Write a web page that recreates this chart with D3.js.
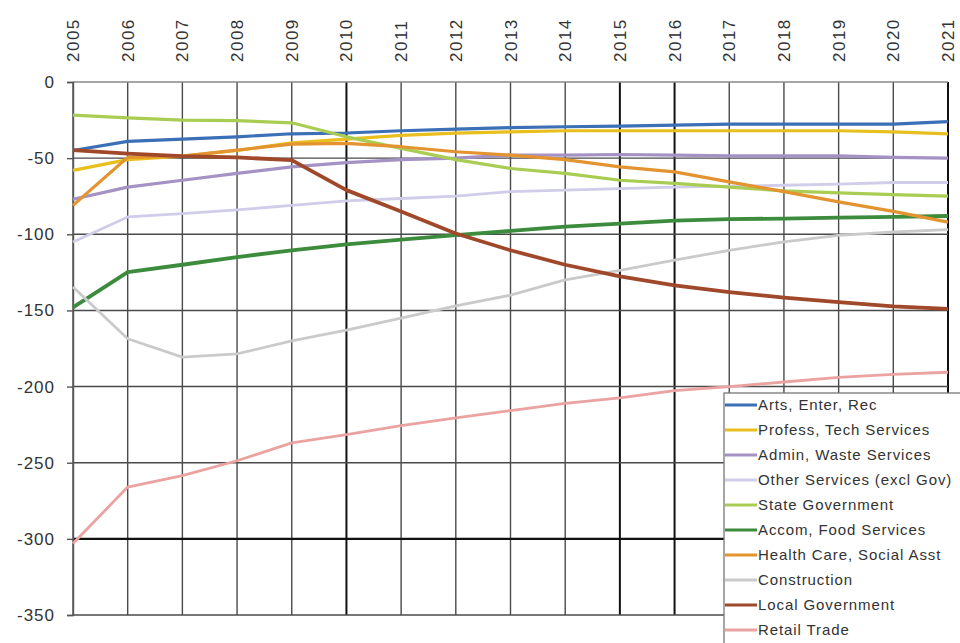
<!DOCTYPE html>
<html>
<head>
<meta charset="utf-8">
<script src="https://cdn.jsdelivr.net/npm/d3@7"></script>
<style>
  html, body { margin: 0; padding: 0; background: #fff; }
  svg { display: block; }
  text { font-family: "Liberation Sans", Arial, sans-serif; fill: #333; }
</style>
</head>
<body>
<svg id="chart" width="960" height="643"></svg>
<script>
// Projected change by sector, 2005-2021
const years = [2005, 2006, 2007, 2008, 2009, 2010, 2011, 2012, 2013, 2014, 2015, 2016, 2017, 2018, 2019, 2020, 2021];
const yTicks = [0, -50, -100, -150, -200, -250, -300, -350];

const artsEnterRec   = [-45, -39, -37.5, -36, -34, -33.5, -32, -31, -30, -29.4, -29, -28.3, -27.6, -27.6, -27.6, -27.6, -26];
const professTech    = [-58, -51, -48.7, -45, -40, -37.5, -35, -33.6, -32.7, -32, -32, -32, -32, -32, -32, -32.7, -34];
const adminWaste     = [-77, -69, -64.5, -60, -55.7, -53, -51, -50, -48, -48, -47.6, -48, -48.5, -48.5, -48.5, -49.5, -50];
const otherServices  = [-105, -88.6, -86.4, -84, -81, -78, -76.5, -75, -72, -71, -70, -69, -68.4, -67.8, -67, -66, -66];
const stateGov       = [-21.7, -23.5, -25, -25.4, -26.8, -36, -43.6, -51, -56.8, -60, -64.5, -66.6, -69, -71.5, -72.8, -74, -75];
const accomFood      = [-148, -124.8, -120, -115, -110.5, -106.6, -103.5, -100.6, -97.8, -95, -93, -91, -90, -89.7, -89, -88.6, -88];
const healthCare     = [-81, -49.5, -48.7, -44.7, -40.8, -40.3, -42.5, -45.8, -48, -51, -55.7, -59, -65.6, -72, -78.7, -85, -92];
const construction   = [-134.6, -168.6, -180.7, -178.5, -170, -163, -155, -147, -140, -130, -123.7, -117, -110.5, -105, -100.7, -98.5, -97];
const localGov       = [-44.7, -47, -48.7, -49.5, -51.3, -71, -85, -99.5, -110.5, -120, -127.6, -133.6, -138, -141.6, -144.5, -147.4, -149];
const retailTrade    = [-303, -266, -258.5, -248.7, -237, -231.6, -225.7, -220.6, -215.8, -211, -207.4, -202.6, -200, -197, -194, -192, -190.6];

const seriesNames = [
  "Arts, Enter, Rec", "Profess, Tech Services", "Admin, Waste Services",
  "Other Services (excl Gov)", "State Government", "Accom, Food Services",
  "Health Care, Social Asst", "Construction", "Local Government", "Retail Trade"
];
const seriesValues = [
  artsEnterRec, professTech, adminWaste, otherServices, stateGov,
  accomFood, healthCare, construction, localGov, retailTrade
];
const seriesColors = [
  "#3b6fb6", "#e8bf1e", "#a592c4", "#cfcdea", "#a9cd52",
  "#3d8b3d", "#e3932f", "#cacaca", "#a0482a", "#eaa3a0"
];
const seriesWidths = [3.2, 3.2, 3.2, 2.8, 3.2, 3.8, 3.2, 2.8, 3.8, 2.8];

const svg = d3.select("#chart");
const margin = { left: 73, right: 12, top: 82, bottom: 28 };
const W = 960, H = 643;

const x = d3.scaleLinear()
  .domain([d3.min(years), d3.max(years)])
  .range([margin.left, W - margin.right]);
const y = d3.scaleLinear()
  .domain([0, -350])
  .range([margin.top, H - margin.bottom]);

// A few grid lines are drawn darker
const darkYears = new Set([2010, 2015, 2016, 2021]);
const darkValues = new Set([-300]);

const grid = svg.append("g");
grid.selectAll("line.v").data(years).join("line")
  .attr("x1", d => x(d)).attr("x2", d => x(d))
  .attr("y1", y(0)).attr("y2", y(-350))
  .attr("stroke", d => darkYears.has(d) ? "#111" : "#4a4a4a")
  .attr("stroke-width", d => darkYears.has(d) ? 2 : 1.4);
grid.selectAll("line.h").data(yTicks).join("line")
  .attr("x1", x(2005)).attr("x2", x(2021))
  .attr("y1", d => y(d)).attr("y2", d => y(d))
  .attr("stroke", d => d === 0 ? "#888" : (darkValues.has(d) ? "#111" : "#4a4a4a"))
  .attr("stroke-width", d => darkValues.has(d) ? 2.2 : 1.4);

// Y axis with ticks to the left
const yAxis = d3.axisLeft(y).tickValues(yTicks).tickSize(6).tickPadding(12)
  .tickFormat(d3.format("d"));
const gy = svg.append("g").attr("transform", `translate(${margin.left},0)`).call(yAxis);
gy.select(".domain").attr("stroke", "#555").attr("stroke-width", 1.4);
gy.selectAll(".tick line").attr("stroke", "#555").attr("stroke-width", 1.4);
gy.selectAll(".tick text")
  .style("font-size", "17px")
  .style("letter-spacing", "1px")
  .attr("fill", "#333")
  .text(d => d === 0 ? "0" : "-" + Math.abs(d));

// Year labels rotated along the top
const gx = svg.append("g");
gx.selectAll("text").data(years).join("text")
  .attr("transform", d => `translate(${x(d) + 6},62) rotate(-90)`)
  .attr("text-anchor", "start")
  .style("font-size", "17px")
  .style("letter-spacing", "1.5px")
  .attr("fill", "#444")
  .text(d => d);

// Series lines
const line = d3.line()
  .x((d, i) => x(years[i]))
  .y(d => y(d));

const lines = svg.append("g");
seriesValues.forEach((vals, k) => {
  lines.append("path")
    .datum(vals)
    .attr("fill", "none")
    .attr("stroke", seriesColors[k])
    .attr("stroke-width", seriesWidths[k])
    .attr("stroke-linejoin", "round")
    .attr("d", line);
});

// Legend
const legend = svg.append("g");
const lgX = 724, lgY = 393, rowH = 25;
legend.append("rect")
  .attr("x", lgX).attr("y", lgY)
  .attr("width", 260).attr("height", 270)
  .attr("fill", "#fff").attr("stroke", "#777").attr("stroke-width", 1.3);
seriesNames.forEach((name, k) => {
  const cy = lgY + 12 + k * rowH;
  legend.append("line")
    .attr("x1", lgX + 1).attr("x2", lgX + 33)
    .attr("y1", cy).attr("y2", cy)
    .attr("stroke", seriesColors[k]).attr("stroke-width", 3);
  legend.append("text")
    .attr("x", lgX + 34).attr("y", cy + 5)
    .style("font-size", "15px")
    .style("letter-spacing", "0.9px")
    .attr("fill", "#333")
    .text(name);
});
</script>
</body>
</html>
